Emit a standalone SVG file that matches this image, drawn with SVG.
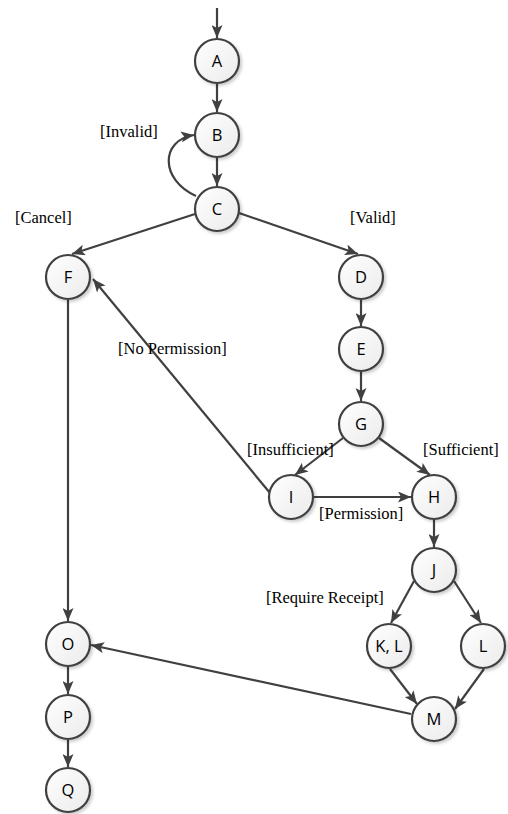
<svg xmlns="http://www.w3.org/2000/svg" width="508" height="814" viewBox="0 0 508 814">
<style>
.node circle{fill:url(#g);stroke:#404040;stroke-width:2.2;filter:url(#sh)}
.node text{font-family:"Open Sans","Noto Sans",sans-serif;font-size:16.5px;fill:#000;text-anchor:middle}
.edge{fill:none;stroke:#404040;stroke-width:2.2;marker-end:url(#arr)}
.lbl{font-family:"Liberation Serif",serif;font-size:16.5px;fill:#000}
</style>
<defs>
<linearGradient id="g" x1="0" y1="0" x2="1" y2="1">
<stop offset="0" stop-color="#ffffff"/>
<stop offset="1" stop-color="#ebebeb"/>
</linearGradient>
<filter id="sh" x="-30%" y="-30%" width="160%" height="160%">
<feDropShadow dx="2" dy="2" stdDeviation="1.5" flood-color="#000" flood-opacity="0.2"/>
</filter>
<marker id="arr" viewBox="0 0 13 11" refX="13" refY="5.5" markerWidth="13" markerHeight="11" markerUnits="userSpaceOnUse" orient="auto">
<path d="M0,0 L13,5.5 L0,11 L3,5.5 z" fill="#404040"/>
</marker>
</defs>
<g id="connectors">
<path class="edge" d="M217,8 L217,38"/>
<path class="edge" d="M217,84 L217,112"/>
<path class="edge" d="M217,158 L217,186"/>
<path class="edge" d="M196,196 C160,180 160,140 194,135"/>
<path class="edge" d="M195,214 L72,254"/>
<path class="edge" d="M239,213 L358,254"/>
<path class="edge" d="M361,300 L361,326"/>
<path class="edge" d="M361,372 L361,401"/>
<path class="edge" d="M343,438 L295,475"/>
<path class="edge" d="M379,438 L430,475"/>
<path class="edge" d="M314,497 L411,497"/>
<path class="edge" d="M270,493 L93,279"/>
<path class="edge" d="M434,520 L434,547"/>
<path class="edge" d="M414,581 L391,623"/>
<path class="edge" d="M454,581 L481,623"/>
<path class="edge" d="M390,669 L417,704"/>
<path class="edge" d="M484,669 L455,709"/>
<path class="edge" d="M411,714 L91,645"/>
<path class="edge" d="M68,300 L68,621"/>
<path class="edge" d="M68,667 L68,694"/>
<path class="edge" d="M68,740 L68,767"/>
</g>
<g id="labels">
<text class="lbl" x="100" y="137">[Invalid]</text>
<text class="lbl" x="15" y="223">[Cancel]</text>
<text class="lbl" x="350" y="223">[Valid]</text>
<text class="lbl" x="118" y="354">[No Permission]</text>
<text class="lbl" x="247" y="455">[Insufficient]</text>
<text class="lbl" x="423" y="455">[Sufficient]</text>
<text class="lbl" x="319" y="519">[Permission]</text>
<text class="lbl" x="266" y="603">[Require Receipt]</text>
</g>
<g id="A" class="node"><circle cx="217" cy="61" r="22"/><text x="217" y="67">A</text></g>
<g id="B" class="node"><circle cx="217" cy="135" r="22"/><text x="217" y="141">B</text></g>
<g id="C" class="node"><circle cx="217" cy="209" r="22"/><text x="217" y="215">C</text></g>
<g id="F" class="node"><circle cx="68" cy="277" r="22"/><text x="68" y="283">F</text></g>
<g id="D" class="node"><circle cx="361" cy="277" r="22"/><text x="361" y="283">D</text></g>
<g id="E" class="node"><circle cx="361" cy="349" r="22"/><text x="361" y="355">E</text></g>
<g id="G" class="node"><circle cx="361" cy="424" r="22"/><text x="361" y="430">G</text></g>
<g id="I" class="node"><circle cx="291" cy="497" r="22"/><text x="291" y="503">I</text></g>
<g id="H" class="node"><circle cx="434" cy="497" r="22"/><text x="434" y="503">H</text></g>
<g id="J" class="node"><circle cx="434" cy="570" r="22"/><text x="434" y="576">J</text></g>
<g id="KL" class="node"><circle cx="389" cy="646" r="22"/><text x="389" y="652">K, L</text></g>
<g id="L" class="node"><circle cx="483" cy="646" r="22"/><text x="483" y="652">L</text></g>
<g id="M" class="node"><circle cx="434" cy="719" r="22"/><text x="434" y="725">M</text></g>
<g id="O" class="node"><circle cx="68" cy="644" r="22"/><text x="68" y="650">O</text></g>
<g id="P" class="node"><circle cx="68" cy="717" r="22"/><text x="68" y="723">P</text></g>
<g id="Q" class="node"><circle cx="68" cy="790" r="22"/><text x="68" y="796">Q</text></g>
</svg>
